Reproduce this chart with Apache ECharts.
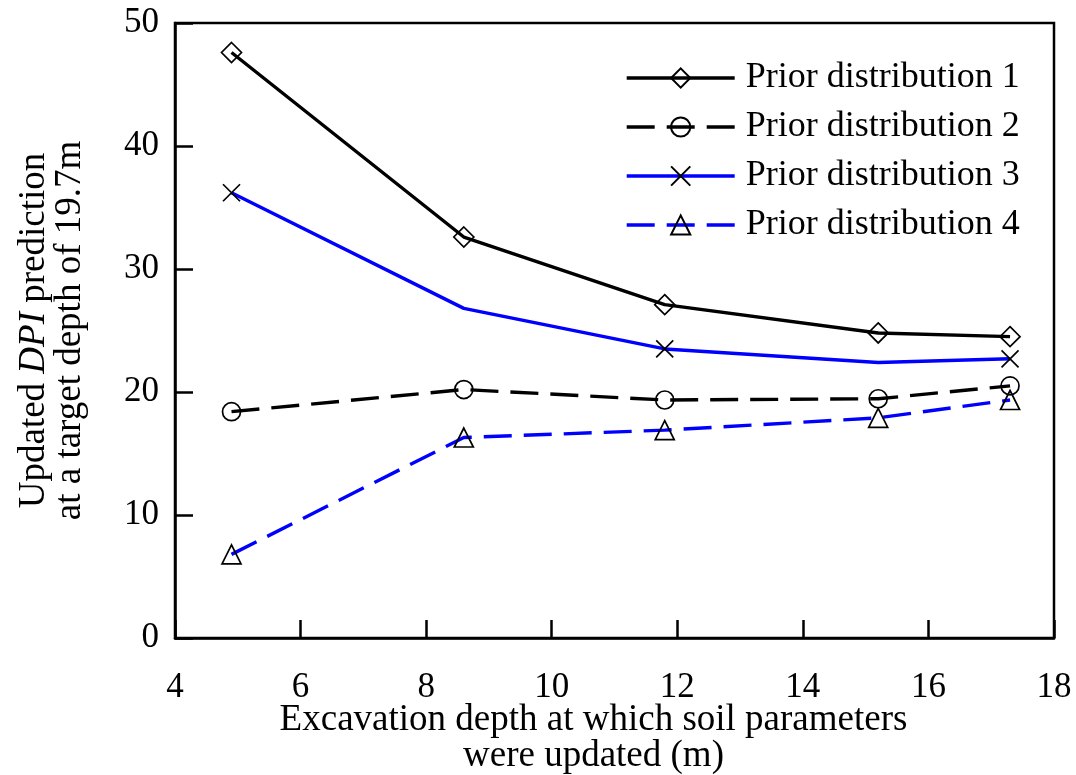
<!DOCTYPE html>
<html>
<head>
<meta charset="utf-8">
<script src="https://cdn.jsdelivr.net/npm/echarts@6/dist/echarts.min.js"></script>
<style>html,body{margin:0;padding:0;background:#fff;}#c{width:1076px;height:775px;}</style>
</head>
<body>
<div id="c"></div>
<script>
const depths = [4.9, 8.6, 11.8, 15.2, 17.3];
const prior1 = [47.6, 32.6, 27.1, 24.8, 24.5];
const prior2 = [18.4, 20.2, 19.35, 19.45, 20.5];
const prior3 = [36.2, 26.8, 23.5, 22.4, 22.7];
const prior4 = [6.8, 16.3, 16.9, 17.9, 19.35];
const seriesNames = ['Prior distribution 1', 'Prior distribution 2', 'Prior distribution 3', 'Prior distribution 4'];
const xTicks = [4, 6, 8, 10, 12, 14, 16, 18];
const yTicks = [0, 10, 20, 30, 40, 50];
const prior3Marked = [true, false, true, false, true];

const FONT = "'Liberation Serif', 'Times New Roman', serif";
const BLUE = '#0000ff';
const xPath = 'path://M0,0L10,10M10,0L0,10';

function pts(ys, marked) {
  return depths.map((x, i) => {
    if (marked && !marked[i]) return { value: [x, ys[i]], symbol: 'none' };
    return [x, ys[i]];
  });
}
function mkSeries(name, ys, color, dashed, symbol, size, marked) {
  return {
    name: name, type: 'line', data: pts(ys, marked),
    symbol: symbol, symbolSize: size, showAllSymbol: true,
    lineStyle: { color: color, width: 3.4, type: dashed ? [28, 12] : 'solid' },
    itemStyle: { color: 'rgba(0,0,0,0)', borderColor: '#000', borderWidth: 1.7 },
    emphasis: { disabled: true }, animation: false
  };
}

const chart = echarts.init(document.getElementById('c'));
chart.setOption({
  backgroundColor: '#fff',
  animation: false,
  grid: { left: 175, top: 23, right: 22, bottom: 137, containLabel: false, outerBoundsMode: 'none',
    show: true, borderColor: '#000', borderWidth: 2.5, backgroundColor: 'transparent' },
  legend: {
    left: 620, top: 55, orient: 'vertical',
    itemWidth: 108, itemHeight: 24, itemGap: 13,
    data: seriesNames,
    lineStyle: { width: 3.4 },
    textStyle: { fontFamily: FONT, fontSize: 36, color: '#000', padding: [0, 0, 0, 6], lineHeight: 36 }
  },
  xAxis: {
    type: 'value', min: xTicks[0], max: xTicks[xTicks.length - 1], interval: 2,
    name: 'Excavation depth at which soil parameters\nwere updated (m)',
    nameLocation: 'middle', nameGap: 64, nameMoveOverlap: false,
    nameTextStyle: { fontFamily: FONT, fontSize: 37, color: '#000', lineHeight: 36, padding: [0, 42, 0, 0] },
    axisLine: { lineStyle: { color: '#000', width: 2.5 } },
    axisTick: { inside: true, length: 18, lineStyle: { color: '#000', width: 2.5 } },
    axisLabel: { fontFamily: FONT, fontSize: 35, color: '#000', margin: 32 },
    splitLine: { show: false }
  },
  yAxis: {
    type: 'value', min: yTicks[0], max: yTicks[yTicks.length - 1], interval: 10,
    name: 'Updated {i|DPI} prediction\nat a target depth of 19.7m',
    nameLocation: 'middle', nameGap: 87, nameRotate: 90, nameMoveOverlap: false,
    nameTextStyle: { fontFamily: FONT, fontSize: 37, color: '#000', lineHeight: 36,
      rich: { i: { fontFamily: FONT, fontSize: 37, fontStyle: 'italic', color: '#000', lineHeight: 36 } } },
    axisLine: { lineStyle: { color: '#000', width: 2.5 } },
    axisTick: { inside: true, length: 18, lineStyle: { color: '#000', width: 2.5 } },
    axisLabel: { fontFamily: FONT, fontSize: 35, color: '#000', margin: 16 },
    splitLine: { show: false }
  },
  series: [
    mkSeries(seriesNames[0], prior1, '#000', false, 'diamond', 20),
    mkSeries(seriesNames[1], prior2, '#000', true, 'circle', 18),
    mkSeries(seriesNames[2], prior3, BLUE, false, xPath, 17, prior3Marked),
    mkSeries(seriesNames[3], prior4, BLUE, true, 'triangle', 19)
  ]
});
</script>
</body>
</html>
